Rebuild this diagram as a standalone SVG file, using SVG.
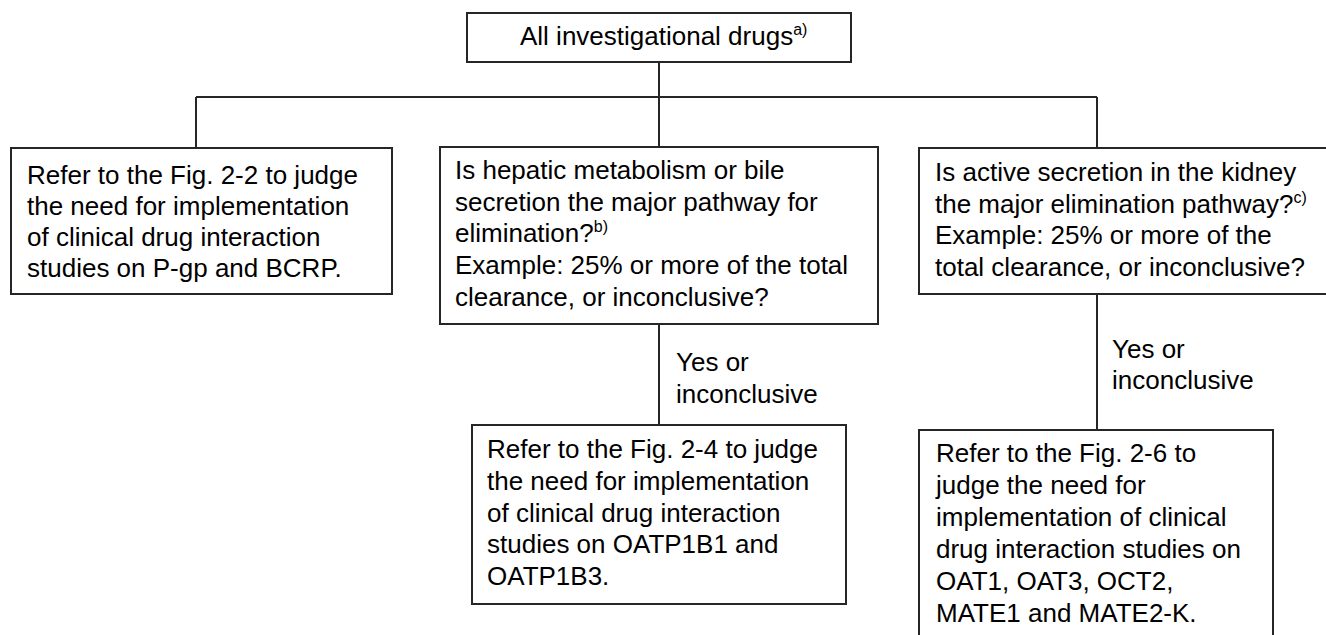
<svg xmlns="http://www.w3.org/2000/svg" width="1326" height="635" viewBox="0 0 1326 635">
<style>
.box{fill:#fff;stroke:#262626;stroke-width:2}
.ln{fill:none;stroke:#262626;stroke-width:2}
text{font-family:"Liberation Sans",Arial,sans-serif;font-size:26px;fill:#000}
.sup{font-size:16px}
</style>
<rect width="1326" height="635" fill="#fff"/>
<g id="connectors">
<path class="ln" d="M659 62V148M196 97H1097M196 97V148M1097 97V148"/>
<path class="ln" d="M659 324V425"/>
<path class="ln" d="M1097 294V430"/>
</g>
<g id="n-top">
<rect class="box" x="467" y="13" width="384" height="49"/>
<text x="520" y="45">All investigational drugs<tspan class="sup" dy="-10">a)</tspan></text>
</g>
<g id="n-left">
<rect class="box" x="11" y="148" width="381" height="146"/>
<text x="27" y="183.5">Refer to the Fig. 2-2 to judge</text>
<text x="27" y="214.5">the need for implementation</text>
<text x="27" y="245.5">of clinical drug interaction</text>
<text x="27" y="276.5">studies on P-gp and BCRP.</text>
</g>
<g id="n-hepatic">
<rect class="box" x="440" y="147" width="438" height="177"/>
<text x="455" y="179">Is hepatic metabolism or bile</text>
<text x="455" y="210.7">secretion the major pathway for</text>
<text x="455" y="242.4">elimination?<tspan class="sup" dy="-10">b)</tspan></text>
<text x="455" y="274.1">Example: 25% or more of the total</text>
<text x="455" y="305.8">clearance, or inconclusive?</text>
</g>
<g id="n-kidney">
<rect class="box" x="919" y="148" width="412" height="146"/>
<text x="935" y="181">Is active secretion in the kidney</text>
<text x="935" y="212.7">the major elimination pathway?<tspan class="sup" dy="-10">c)</tspan></text>
<text x="935" y="244.3">Example: 25% or more of the</text>
<text x="935" y="276">total clearance, or inconclusive?</text>
</g>
<g id="label-hepatic">
<text x="676" y="371">Yes or</text>
<text x="676" y="402.7">inconclusive</text>
</g>
<g id="label-kidney">
<text x="1112" y="358.3">Yes or</text>
<text x="1112" y="389.3">inconclusive</text>
</g>
<g id="n-oatp">
<rect class="box" x="472" y="425" width="374" height="179"/>
<text x="487" y="458.3">Refer to the Fig. 2-4 to judge</text>
<text x="487" y="490">the need for implementation</text>
<text x="487" y="521.7">of clinical drug interaction</text>
<text x="487" y="553.3">studies on OATP1B1 and</text>
<text x="487" y="585">OATP1B3.</text>
</g>
<g id="n-oat">
<rect class="box" x="919" y="430" width="354" height="220"/>
<text x="936" y="461.7">Refer to the Fig. 2-6 to</text>
<text x="936" y="493.7">judge the need for</text>
<text x="936" y="525.7">implementation of clinical</text>
<text x="936" y="557.7">drug interaction studies on</text>
<text x="936" y="589.7">OAT1, OAT3, OCT2,</text>
<text x="936" y="621.7">MATE1 and MATE2-K.</text>
</g>
</svg>
